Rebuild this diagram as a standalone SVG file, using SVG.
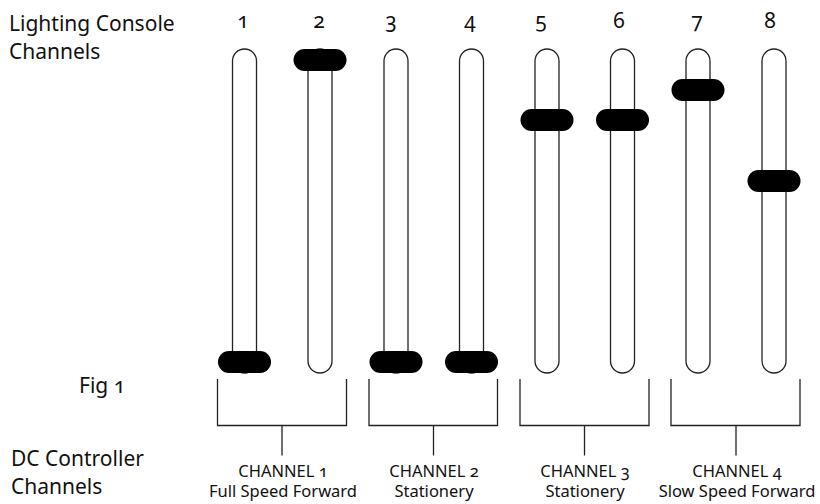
<svg xmlns="http://www.w3.org/2000/svg" width="820" height="504" viewBox="0 0 820 504">
<style>
text{font-family:"Noto Sans","Open Sans","DejaVu Sans",sans-serif;fill:#111;font-variant-numeric:oldstyle-nums;font-feature-settings:"onum" 1}
.big{font-size:21px}
.num{font-size:21px;text-anchor:middle}
.sm{font-size:16.5px;text-anchor:middle}
.track{fill:#fff;stroke:#222;stroke-width:1.3}
.knob{fill:#000}
.br{fill:none;stroke:#222;stroke-width:1.3}
</style>
<rect width="820" height="504" fill="#fff"/>
<g id="labels">
<text class="big" x="9" y="31">Lighting Console</text>
<text class="big" x="9" y="59">Channels</text>
<text class="big" x="79" y="393">Fig 1</text>
<text class="big" x="11" y="466">DC Controller</text>
<text class="big" x="11" y="494">Channels</text>
</g>
<g id="fader1"><text class="num" x="243" y="28">1</text><rect class="track" x="232.5" y="49" width="24" height="324" rx="12"/><rect class="knob" x="218" y="351" width="53" height="22" rx="11"/></g>
<g id="fader2"><text class="num" x="319" y="28">2</text><rect class="track" x="308" y="49" width="24" height="324" rx="12"/><rect class="knob" x="293.5" y="49" width="53" height="22" rx="11"/></g>
<g id="fader3"><text class="num" x="391" y="28">3</text><rect class="track" x="384" y="49" width="24" height="324" rx="12"/><rect class="knob" x="369.5" y="351" width="53" height="22" rx="11"/></g>
<g id="fader4"><text class="num" x="470" y="28">4</text><rect class="track" x="459.5" y="49" width="24" height="324" rx="12"/><rect class="knob" x="445" y="351" width="53" height="22" rx="11"/></g>
<g id="fader5"><text class="num" x="541" y="28">5</text><rect class="track" x="535" y="49" width="24" height="324" rx="12"/><rect class="knob" x="520.5" y="109" width="53" height="22" rx="11"/></g>
<g id="fader6"><text class="num" x="619" y="28">6</text><rect class="track" x="610.5" y="49" width="24" height="324" rx="12"/><rect class="knob" x="596" y="109" width="53" height="22" rx="11"/></g>
<g id="fader7"><text class="num" x="697" y="28">7</text><rect class="track" x="686" y="49" width="24" height="324" rx="12"/><rect class="knob" x="671.5" y="79" width="53" height="22" rx="11"/></g>
<g id="fader8"><text class="num" x="770" y="28">8</text><rect class="track" x="762" y="49" width="24" height="324" rx="12"/><rect class="knob" x="747.5" y="170" width="53" height="22" rx="11"/></g>
<g id="connectors">
<path class="br" d="M217.5 379V425.5H346.5V379M282 425.5V455.5"/>
<path class="br" d="M369 379V425.5H497.5V379M433.5 425.5V455.5"/>
<path class="br" d="M520 379V425.5H649V379M584.5 425.5V455.5"/>
<path class="br" d="M671 379V425.5H800V379M736 425.5V455.5"/>
</g>
<g id="channel1"><text class="sm" x="283" y="477">CHANNEL 1</text><text class="sm" x="283" y="496.5">Full Speed Forward</text></g>
<g id="channel2"><text class="sm" x="434" y="477">CHANNEL 2</text><text class="sm" x="434" y="496.5">Stationery</text></g>
<g id="channel3"><text class="sm" x="585" y="477">CHANNEL 3</text><text class="sm" x="585" y="496.5">Stationery</text></g>
<g id="channel4"><text class="sm" x="737" y="477">CHANNEL 4</text><text class="sm" x="737" y="496.5">Slow Speed Forward</text></g>
</svg>
